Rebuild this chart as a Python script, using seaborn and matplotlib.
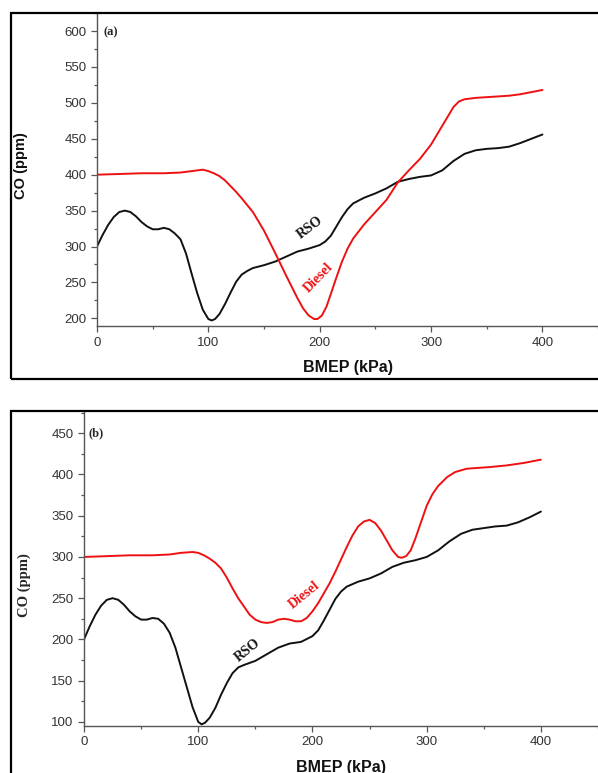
import matplotlib
matplotlib.use("Agg")
import matplotlib.pyplot as plt
import seaborn as sns
import pandas as pd
from matplotlib.patches import Rectangle
from matplotlib.ticker import MultipleLocator

# Panel (a) data
bmep_a_rso = [0, 5, 10, 15, 20, 25, 30, 35, 40, 45, 50, 55, 60, 65, 70, 75, 80, 85, 90, 95,
              100, 103, 106, 110, 115, 120, 125, 130, 135, 140, 150, 160, 170, 180, 190, 200,
              205, 210, 215, 220, 225, 230, 240, 250, 260, 270, 280, 290, 300, 310, 320, 330,
              340, 350, 360, 370, 380, 390, 400]
co_a_rso = [300, 316, 330, 341, 348, 350, 348, 342, 334, 328, 324, 324, 326, 324, 318, 310, 290, 262, 235, 212,
            199, 197, 199, 206, 220, 236, 251, 261, 266, 270, 274, 279, 286, 293, 297, 302,
            307, 315, 328, 341, 352, 360, 368, 374, 381, 390, 394, 397, 399, 406, 419, 429,
            434, 436, 437, 439, 444, 450, 456]

bmep_a_diesel = [0, 20, 40, 60, 75, 85, 95, 100, 105, 110, 115, 120, 125, 130, 140, 150, 160, 170, 180,
                 185, 190, 195, 198, 202, 206, 210, 215, 220, 225, 230, 235, 240, 250, 260, 270, 280,
                 290, 300, 310, 320, 325, 330, 340, 350, 360, 370, 380, 390, 400]
co_a_diesel = [400, 401, 402, 402, 403, 405, 407, 405, 402, 398, 392, 384, 376, 367, 348, 322, 291, 259, 228,
               214, 204, 199, 199, 204, 216, 234, 257, 279, 297, 311, 321, 331, 348, 365, 389, 406,
               422, 442, 468, 494, 502, 505, 507, 508, 509, 510, 512, 515, 518]

# Panel (b) data
bmep_b_rso = [0, 5, 10, 15, 20, 25, 30, 35, 40, 45, 50, 55, 60, 65, 70, 75, 80, 85, 90, 95,
              100, 103, 106, 110, 115, 120, 125, 130, 135, 140, 150, 160, 170, 180, 190, 200,
              205, 210, 215, 220, 225, 230, 240, 250, 260, 270, 280, 290, 300, 310, 320, 330,
              340, 350, 360, 370, 380, 390, 400]
co_b_rso = [200, 216, 230, 241, 248, 250, 248, 242, 234, 228, 224, 224, 226, 225, 219, 208, 190, 166, 142, 118,
            100, 97, 99, 105, 117, 133, 147, 159, 166, 169, 174, 182, 190, 195, 197, 204,
            211, 223, 236, 249, 258, 264, 270, 274, 280, 288, 293, 296, 300, 308, 319, 328,
            333, 335, 337, 338, 342, 348, 355]

bmep_b_diesel = [0, 20, 40, 60, 75, 85, 95, 100, 105, 110, 115, 120, 125, 130, 135, 140, 145, 150, 155,
                 160, 165, 170, 175, 180, 185, 190, 195, 200, 205, 210, 215, 220, 225, 230, 235, 240,
                 245, 250, 255, 260, 265, 270, 275, 278, 282, 286, 290, 295, 300, 305, 310, 318, 325,
                 335, 345, 355, 370, 385, 400]
co_b_diesel = [300, 301, 302, 302, 303, 305, 306, 305, 302, 298, 293, 286, 275, 262, 250, 240, 230, 224, 221,
               220, 221, 224, 225, 224, 222, 222, 226, 234, 244, 256, 268, 282, 297, 312, 326, 337,
               343, 345, 341, 332, 320, 308, 300, 299, 301, 308, 322, 342, 362, 376, 386, 397, 403,
               407, 408, 409, 411, 414, 418]

sns.set_style("ticks")
plt.rcParams['font.family'] = ['Liberation Sans', 'DejaVu Sans']

fig = plt.figure(figsize=(5.98, 7.73), dpi=100)

# outer frames
fig.patches.append(Rectangle((0.0184, 0.5097), 0.99, 0.4735, transform=fig.transFigure,
                             fill=False, lw=1.6, ec='black'))
fig.patches.append(Rectangle((0.0184, -0.009), 0.99, 0.4773, transform=fig.transFigure,
                             fill=False, lw=1.6, ec='black'))

ax_a = fig.add_axes([0.1622, 0.578, 0.838, 0.405])
ax_b = fig.add_axes([0.1405, 0.0608, 0.8595, 0.4075])

df_a_rso = pd.DataFrame({"BMEP": bmep_a_rso, "CO": co_a_rso})
df_a_diesel = pd.DataFrame({"BMEP": bmep_a_diesel, "CO": co_a_diesel})
df_b_rso = pd.DataFrame({"BMEP": bmep_b_rso, "CO": co_b_rso})
df_b_diesel = pd.DataFrame({"BMEP": bmep_b_diesel, "CO": co_b_diesel})

sns.lineplot(data=df_a_rso, x="BMEP", y="CO", ax=ax_a, color="#111111", lw=1.4)
sns.lineplot(data=df_a_diesel, x="BMEP", y="CO", ax=ax_a, color="#ee1111", lw=1.4)
sns.lineplot(data=df_b_rso, x="BMEP", y="CO", ax=ax_b, color="#111111", lw=1.4)
sns.lineplot(data=df_b_diesel, x="BMEP", y="CO", ax=ax_b, color="#ee1111", lw=1.4)

for ax in (ax_a, ax_b):
    ax.set_xlim(0, 450)
    ax.xaxis.set_major_locator(MultipleLocator(100))
    ax.xaxis.set_minor_locator(MultipleLocator(50))
    ax.yaxis.set_major_locator(MultipleLocator(50))
    ax.yaxis.set_minor_locator(MultipleLocator(25))
    ax.tick_params(which='major', length=4, width=0.9, color='#555555',
                   labelcolor='#333333', labelsize=9.5, direction='out')
    ax.tick_params(which='minor', length=2.5, width=0.9, color='#555555', direction='out')
    for s in ('top', 'right'):
        ax.spines[s].set_visible(False)
    for s in ('left', 'bottom'):
        ax.spines[s].set_color('#555555')
        ax.spines[s].set_linewidth(1.0)
    ax.set_facecolor('none')

ax_a.set_ylim(189, 625)
ax_b.set_ylim(95, 477)

ax_a.set_xlabel("BMEP (kPa)", fontsize=11.5, fontweight='bold', color='#111111')
ax_a.xaxis.set_label_coords(0.5, -0.108)
ax_a.set_ylabel("CO (ppm)", fontsize=10.5, fontweight='bold', color='#111111')
ax_a.yaxis.set_label_coords(-0.138, 0.514)

ax_b.set_xlabel("BMEP (kPa)", fontsize=11.5, fontweight='bold', color='#111111')
ax_b.xaxis.set_label_coords(0.5, -0.108)
ax_b.set_ylabel("CO (ppm)", fontsize=10.5, fontweight='bold', family='Liberation Serif')
ax_b.yaxis.set_label_coords(-0.103, 0.448)

serif = dict(family='Liberation Serif', fontweight='bold', ha='center', va='center')
ax_a.text(0.012, 0.94, "(a)", transform=ax_a.transAxes, fontsize=9, ha='left', va='center',
          family='Liberation Serif', fontweight='bold')
ax_b.text(0.008, 0.93, "(b)", transform=ax_b.transAxes, fontsize=9, ha='left', va='center',
          family='Liberation Serif', fontweight='bold')

ax_a.text(191, 326, "RSO", rotation=37, fontsize=10, color='#111111', **serif)
ax_a.text(199, 257, "Diesel", rotation=46, fontsize=10, color='#ee1111', **serif)
ax_b.text(193, 254, "Diesel", rotation=39, fontsize=10, color='#ee1111', **serif)
ax_b.text(143, 187, "RSO", rotation=39, fontsize=10, color='#111111', **serif)

fig.savefig("out.png", dpi=100)
